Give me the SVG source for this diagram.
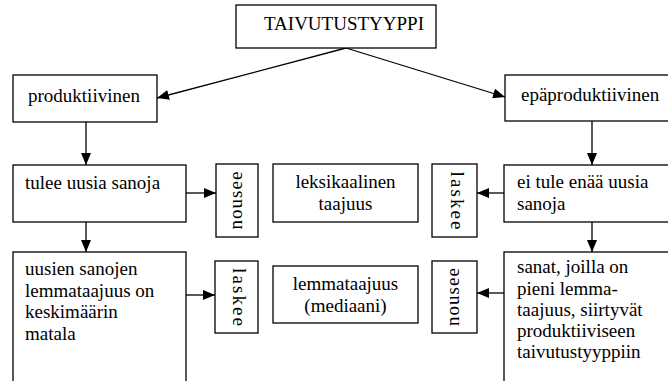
<svg xmlns="http://www.w3.org/2000/svg" width="668" height="381" viewBox="0 0 668 381">
<defs>
<marker id="ah" viewBox="0 0 12 10" refX="12" refY="5" markerWidth="12" markerHeight="10" markerUnits="userSpaceOnUse" orient="auto">
<path d="M0,0 L12,5 L0,10 Z" fill="#000"/>
</marker>
<style>
rect{fill:#fff;stroke:#000;stroke-width:1.3}
.c{text-anchor:middle}
.v{text-anchor:middle}
#conn line{stroke:#000;stroke-width:1.3;marker-end:url(#ah)}
</style>
</defs>
<rect x="0" y="0" width="668" height="381" style="fill:#fff;stroke:none"/>
<g id="conn">
<line x1="346" y1="48" x2="157" y2="98"/>
<line x1="346" y1="48" x2="505" y2="97"/>
<line x1="86" y1="122" x2="86" y2="165"/>
<line x1="86" y1="222" x2="86" y2="252"/>
<line x1="186" y1="193" x2="216" y2="193"/>
<line x1="504" y1="193" x2="477" y2="193"/>
<line x1="592" y1="121" x2="592" y2="165"/>
<line x1="592" y1="222" x2="592" y2="252"/>
<line x1="186" y1="295" x2="215" y2="295"/>
<line x1="504" y1="293" x2="477" y2="293"/>
</g>
<g font-family="Liberation Serif" font-size="19" fill="#000">
<g id="taivutustyyppi">
<rect x="236" y="5" width="200" height="43"/>
<text x="344" y="30" class="c" font-family="Liberation Serif">TAIVUTUSTYYPPI</text>
</g>
<g id="produktiivinen">
<rect x="13" y="75" width="144" height="47"/>
<text x="28" y="102" font-family="Liberation Serif">produktiivinen</text>
</g>
<g id="epaproduktiivinen">
<rect x="505" y="75" width="180" height="46"/>
<text x="521" y="101" font-family="Liberation Serif">epäproduktiivinen</text>
</g>
<g id="tulee">
<rect x="13" y="165" width="173" height="57"/>
<text x="25" y="189" font-family="Liberation Serif">tulee uusia sanoja</text>
</g>
<g id="nousee1">
<rect x="216" y="164" width="42" height="73"/>
<text class="v" font-family="Liberation Serif" transform="translate(241.5,200.5) rotate(-90)" x="0" y="0" textLength="58" lengthAdjust="spacing">nousee</text>
</g>
<g id="leksikaalinen">
<rect x="273" y="164" width="145" height="58"/>
<text x="345.5" y="188" class="c" font-family="Liberation Serif">leksikaalinen</text>
<text x="345.5" y="210" class="c" font-family="Liberation Serif">taajuus</text>
</g>
<g id="laskee1">
<rect x="432" y="164" width="45" height="73"/>
<text class="v" font-family="Liberation Serif" transform="translate(450.5,200.5) rotate(90)" x="0" y="0" textLength="58" lengthAdjust="spacing">laskee</text>
</g>
<g id="eitule">
<rect x="504" y="165" width="180" height="57"/>
<text x="517" y="188" font-family="Liberation Serif">ei tule enää uusia</text>
<text x="517" y="210" font-family="Liberation Serif">sanoja</text>
</g>
<g id="uusien">
<rect x="13" y="252" width="173" height="140"/>
<text x="25" y="275" font-family="Liberation Serif">uusien sanojen</text>
<text x="25" y="296.5" font-family="Liberation Serif">lemmataajuus on</text>
<text x="25" y="318" font-family="Liberation Serif">keskimäärin</text>
<text x="25" y="339.5" font-family="Liberation Serif">matala</text>
</g>
<g id="laskee2">
<rect x="215" y="261" width="43" height="72"/>
<text class="v" font-family="Liberation Serif" transform="translate(232.5,297) rotate(90)" x="0" y="0" textLength="58" lengthAdjust="spacing">laskee</text>
</g>
<g id="lemmataajuus">
<rect x="273" y="266" width="145" height="57"/>
<text x="345.5" y="290" class="c" font-family="Liberation Serif">lemmataajuus</text>
<text x="345.5" y="312" class="c" font-family="Liberation Serif">(mediaani)</text>
</g>
<g id="nousee2">
<rect x="432" y="261" width="45" height="72"/>
<text class="v" font-family="Liberation Serif" transform="translate(458.5,297) rotate(-90)" x="0" y="0" textLength="58" lengthAdjust="spacing">nousee</text>
</g>
<g id="sanat">
<rect x="504" y="252" width="180" height="140"/>
<text x="517" y="273" font-family="Liberation Serif">sanat, joilla on</text>
<text x="517" y="294.5" font-family="Liberation Serif">pieni lemma-</text>
<text x="517" y="315.5" font-family="Liberation Serif">taajuus, siirtyvät</text>
<text x="517" y="337" font-family="Liberation Serif">produktiiviseen</text>
<text x="517" y="358" font-family="Liberation Serif">taivutustyyppiin</text>
</g>
</g>
</svg>
